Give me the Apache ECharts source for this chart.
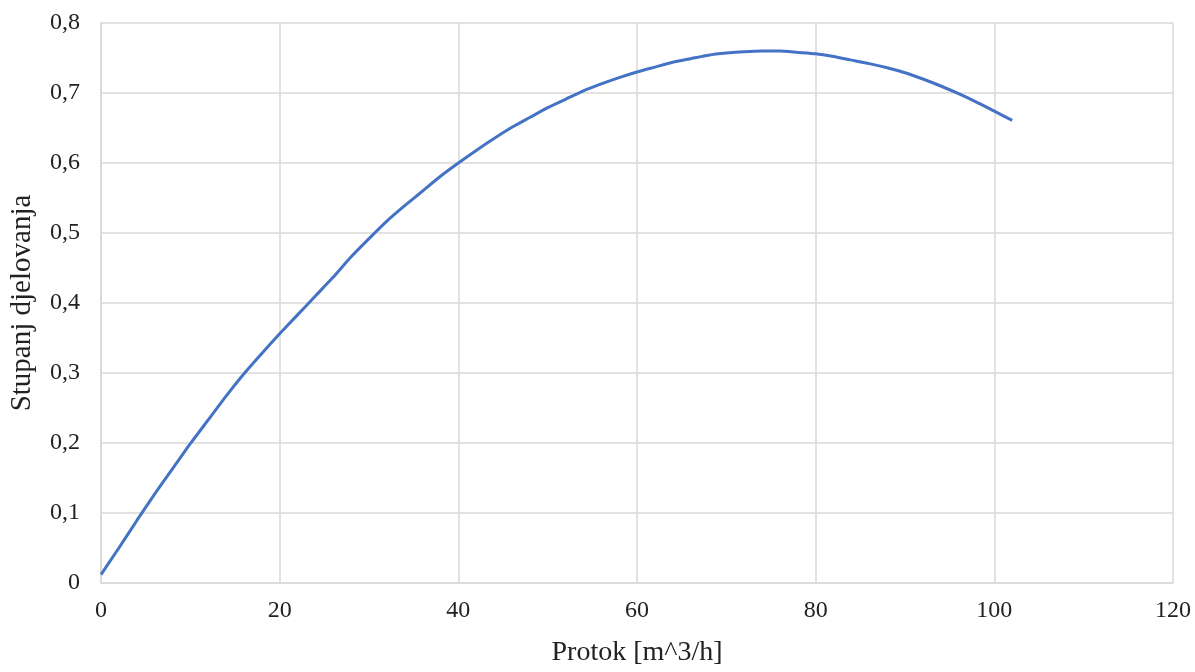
<!DOCTYPE html>
<html>
<head>
<meta charset="utf-8">
<script src="https://cdn.jsdelivr.net/npm/echarts@6/dist/echarts.min.js"></script>
<style>
html,body{margin:0;padding:0;background:#fff;}
#chart{width:1195px;height:672px;}
</style>
</head>
<body>
<div id="chart"></div>
<script>
// Flow rate [m^3/h]
const protok = [0,2,4,6,8,10,12,14,16,18,20,22,24,26,28,30,32,34,36,38,40,42,44,46,48,50,52,54,56,58,60,62,64,66,68,70,72,74,76,78,80,82,84,86,88,90,92,94,96,98,100,102];
// Efficiency
const stupanj = [0.012,0.050,0.089,0.127,0.163,0.199,0.233,0.267,0.299,0.328,0.356,0.383,0.410,0.437,0.466,0.492,0.517,0.539,0.560,0.581,0.600,0.618,0.635,0.651,0.665,0.679,0.691,0.703,0.713,0.722,0.730,0.737,0.744,0.749,0.754,0.757,0.759,0.760,0.760,0.758,0.756,0.752,0.747,0.742,0.736,0.729,0.720,0.710,0.699,0.687,0.674,0.661];
const xTitle = 'Protok [m^3/h]';
const yTitle = 'Stupanj djelovanja';

const chart = echarts.init(document.getElementById('chart'));
const font = '"Liberation Serif", "Times New Roman", serif';
const txt = '#222222';
const gridCol = '#d9d9d9';
chart.setOption({
  animation: false,
  grid: {left: 101, right: 22, top: 23, bottom: 86, containLabel: false},
  xAxis: {
    type: 'value', min: 0, max: 120, interval: 20,
    name: xTitle, nameLocation: 'middle', nameGap: 56,
    nameTextStyle: {fontFamily: font, fontSize: 28, color: txt},
    axisLine: {show: true, lineStyle: {color: gridCol, width: 1.5}},
    axisTick: {show: false},
    axisLabel: {fontFamily: font, fontSize: 24, color: txt, margin: 16},
    splitLine: {show: true, lineStyle: {color: gridCol, width: 1.5}}
  },
  yAxis: {
    type: 'value', min: 0, max: 0.8, interval: 0.1,
    name: yTitle, nameLocation: 'middle', nameGap: 64,
    nameTextStyle: {fontFamily: font, fontSize: 29, color: txt},
    axisLine: {show: true, lineStyle: {color: gridCol, width: 1.5}},
    axisTick: {show: false},
    axisLabel: {fontFamily: font, fontSize: 24, color: txt, margin: 21,
      formatter: v => v === 0 ? '0' : v.toFixed(1).replace('.', ',')},
    splitLine: {show: true, lineStyle: {color: gridCol, width: 1.5}}
  },
  series: [{
    type: 'line',
    data: protok.map((x, i) => [x, stupanj[i]]),
    showSymbol: false,
    smooth: 0.2,
    lineStyle: {color: '#4472C4', width: 3},
    itemStyle: {color: '#4472C4'}
  }]
});
</script>
</body>
</html>
